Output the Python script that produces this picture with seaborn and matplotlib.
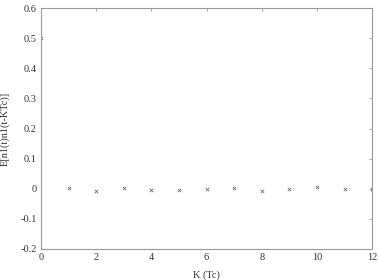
import matplotlib
matplotlib.use("Agg")
import matplotlib.pyplot as plt
import seaborn as sns
import pandas as pd

# lag values and autocorrelation estimates
lags = [0, 1, 2, 3, 4, 5, 6, 7, 8, 9, 10, 11, 12]
corr = [0.5, 0.002, -0.006, 0.004, -0.003, -0.005, -0.002, 0.001, -0.009, -0.002, 0.006, -0.002, 0.0]
x_ticks = [0, 2, 4, 6, 8, 10, 12]
y_ticks = [-0.2, -0.1, 0, 0.1, 0.2, 0.3, 0.4, 0.5, 0.6]

sns.set_style("white")
plt.rcParams["font.family"] = ["Liberation Serif", "DejaVu Serif"]

df = pd.DataFrame({"K": lags, "E": corr})

fig = plt.figure(figsize=(3.79, 2.80), dpi=100)
ax = fig.add_axes([0.108, 0.111, 0.874, 0.860])
sns.scatterplot(data=df, x="K", y="E", marker="x", s=6, color="#555555",
                linewidth=0.5, ax=ax, legend=False)

ax.set_xlim(0, 12)
ax.set_ylim(-0.2, 0.6)
ax.set_xticks(x_ticks)
ax.set_xticklabels([str(t) for t in x_ticks])
ax.set_yticks(y_ticks)
ax.set_yticklabels(["-0.2", "-0.1", "0", "0.1", "0.2", "0.3", "0.4", "0.5", "0.6"])
ax.tick_params(direction="in", length=2, width=0.5, labelsize=7.5, colors="#888888",
               labelcolor="#333333", top=True, right=True, pad=3)
for sp in ax.spines.values():
    sp.set_color("#999999")
    sp.set_linewidth(0.8)
ax.set_xlabel("K (Tc)", fontsize=7.5, color="#333333", labelpad=6)
ax.set_ylabel("E[n1(t)n1(t-KTc)]", fontsize=7.5, color="#333333", labelpad=8)

fig.savefig("out.png", dpi=100)
